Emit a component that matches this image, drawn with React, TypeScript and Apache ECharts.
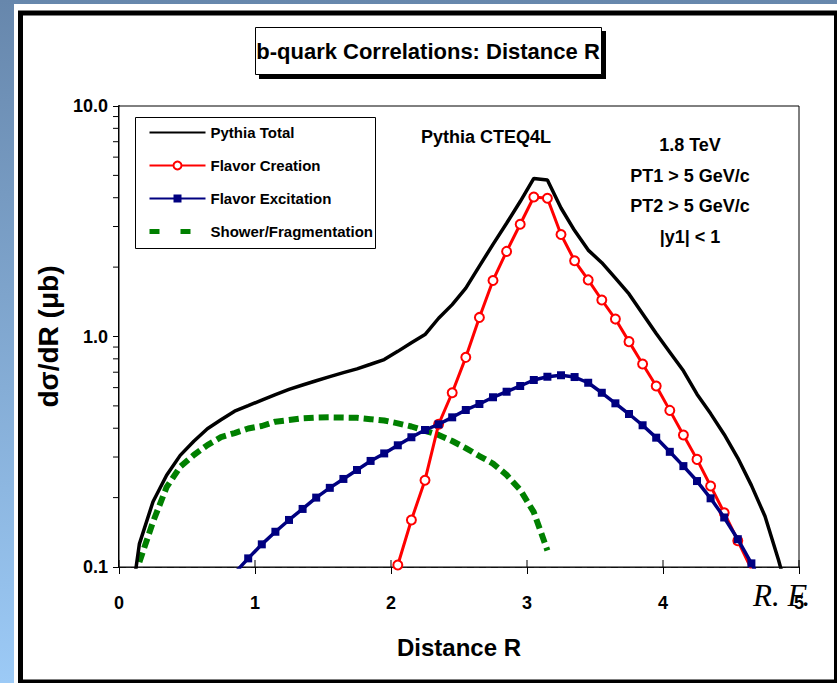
import React, { useEffect, useRef } from "react";
import * as echarts from "echarts";

// ---- data (R, dσ/dR in μb) ----
const totalR = [0.05, 0.15, 0.25, 0.35, 0.45, 0.55, 0.65, 0.75, 0.85, 0.95, 1.05, 1.15, 1.25, 1.35, 1.45, 1.55, 1.65, 1.75, 1.85, 1.95, 2.05, 2.15, 2.25, 2.35, 2.45, 2.55, 2.65, 2.75, 2.85, 2.95, 3.05, 3.15, 3.25, 3.35, 3.45, 3.55, 3.65, 3.75, 3.85, 3.95, 4.05, 4.15, 4.25, 4.35, 4.45, 4.55, 4.65, 4.75, 4.85, 4.95];
const totalV = [0.048, 0.126, 0.192, 0.25, 0.305, 0.351, 0.398, 0.435, 0.474, 0.501, 0.53, 0.56, 0.59, 0.616, 0.643, 0.67, 0.697, 0.724, 0.758, 0.794, 0.862, 0.94, 1.02, 1.2, 1.375, 1.62, 2.02, 2.51, 3.1, 3.85, 4.85, 4.77, 3.61, 2.88, 2.37, 2.09, 1.79, 1.53, 1.256, 1.03, 0.855, 0.71, 0.562, 0.463, 0.376, 0.297, 0.226, 0.166, 0.107, 0.065];

const creationR = [2.05, 2.15, 2.25, 2.35, 2.45, 2.55, 2.65, 2.75, 2.85, 2.95, 3.05, 3.15, 3.25, 3.35, 3.45, 3.55, 3.65, 3.75, 3.85, 3.95, 4.05, 4.15, 4.25, 4.35, 4.45, 4.55, 4.65];
const creationV = [0.102, 0.16, 0.238, 0.416, 0.57, 0.812, 1.21, 1.75, 2.34, 3.07, 4.03, 3.98, 2.77, 2.13, 1.76, 1.44, 1.19, 0.95, 0.76, 0.61, 0.478, 0.374, 0.293, 0.2245, 0.172, 0.13, 0.098];

const excitationR = [0.85, 0.95, 1.05, 1.15, 1.25, 1.35, 1.45, 1.55, 1.65, 1.75, 1.85, 1.95, 2.05, 2.15, 2.25, 2.35, 2.45, 2.55, 2.65, 2.75, 2.85, 2.95, 3.05, 3.15, 3.25, 3.35, 3.45, 3.55, 3.65, 3.75, 3.85, 3.95, 4.05, 4.15, 4.25, 4.35, 4.45, 4.55, 4.65, 4.75];
const excitationV = [0.094, 0.109, 0.1254, 0.1422, 0.16, 0.1786, 0.2, 0.2205, 0.241, 0.2636, 0.2885, 0.311, 0.3373, 0.3655, 0.393, 0.416, 0.446, 0.48, 0.5096, 0.545, 0.576, 0.61, 0.6476, 0.669, 0.679, 0.667, 0.63, 0.57, 0.513, 0.461, 0.412, 0.364, 0.316, 0.274, 0.236, 0.1986, 0.164, 0.132, 0.1037, 0.08];

const showerR = [0.15, 0.25, 0.35, 0.45, 0.55, 0.65, 0.75, 0.85, 0.95, 1.05, 1.15, 1.25, 1.35, 1.45, 1.55, 1.65, 1.75, 1.85, 1.95, 2.05, 2.15, 2.25, 2.35, 2.45, 2.55, 2.65, 2.75, 2.85, 2.95, 3.05, 3.15];
const showerV = [0.105, 0.157, 0.222, 0.272, 0.306, 0.338, 0.366, 0.381, 0.399, 0.409, 0.427, 0.434, 0.442, 0.445, 0.446, 0.445, 0.444, 0.438, 0.432, 0.42, 0.407, 0.39, 0.374, 0.352, 0.328, 0.303, 0.281, 0.251, 0.216, 0.173, 0.118];

const seriesNames = ["Pythia Total", "Flavor Creation", "Flavor Excitation", "Shower/Fragmentation"];
const xTicks = [0, 1, 2, 3, 4, 5];
const yMinorTicks = [0.2, 0.3, 0.4, 0.5, 0.6, 0.7, 0.8, 0.9, 2, 3, 4, 5, 6, 7, 8, 9];
const titleText = "b-quark Correlations: Distance R";
const noteLeft = "Pythia CTEQ4L";
const noteRight = ["1.8 TeV", "PT1 > 5 GeV/c", "PT2 > 5 GeV/c", "|y1| < 1"];
const signature = "R. F.";

const SANS = "'Liberation Sans', Arial, Helvetica, sans-serif";

const pair = (xs: number[], ys: number[]) => xs.map((x, i) => [x, ys[i]]);

export default function App() {
  const ref = useRef<HTMLDivElement>(null);
  useEffect(() => {
    if (!ref.current) return;
    const chart = echarts.init(ref.current, null, { renderer: "svg" });

    const tickSeries = (data: number[][], kind: "y" | "x") => ({
      type: "custom",
      coordinateSystem: "cartesian2d",
      clip: false,
      silent: true,
      z: 5,
      data,
      renderItem: (_p: any, api: any) => {
        const p = api.coord([api.value(0), api.value(1)]);
        const shape =
          kind === "y"
            ? { x1: p[0] - 6, y1: p[1], x2: p[0], y2: p[1] }
            : { x1: p[0], y1: p[1] - 7, x2: p[0], y2: p[1] };
        return { type: "line", shape, style: { stroke: "#000", lineWidth: 1 } };
      },
    });

    const option: any = {
      animation: false,
      backgroundColor: new echarts.graphic.LinearGradient(0, 0, 0, 1, [
        { offset: 0, color: "#6787ac" },
        { offset: 1, color: "#9ccaf6" },
      ]),
      grid: {
        left: 119,
        right: 38,
        top: 106,
        bottom: 116,
        show: true,
        borderColor: "#000",
        borderWidth: 1,
        backgroundColor: "#fff",
        z: 1,
      },
      legend: {
        orient: "vertical",
        left: 147,
        top: 125,
        itemWidth: 56,
        itemHeight: 10,
        itemGap: 18,
        padding: 0,
        z: 6,
        textStyle: { fontFamily: SANS, fontSize: 15, fontWeight: "bold", color: "#000" },
        data: [
          { name: seriesNames[0], itemStyle: { opacity: 0 } },
          { name: seriesNames[1] },
          { name: seriesNames[2] },
          { name: seriesNames[3], itemStyle: { opacity: 0 }, lineStyle: { type: [10, 21], width: 5 } },
        ],
      },
      xAxis: {
        type: "value",
        min: 0,
        max: 5,
        interval: 1,
        name: "Distance R",
        nameLocation: "middle",
        nameGap: 68,
        nameTextStyle: { fontFamily: SANS, fontSize: 24, fontWeight: "bold", color: "#000" },
        axisLine: { onZero: false, lineStyle: { color: "#000", width: 1.5 } },
        axisTick: { show: true, length: 7, lineStyle: { color: "#000", width: 1 } },
        axisLabel: { margin: 27, fontFamily: SANS, fontSize: 18, fontWeight: "bold", color: "#000" },
        splitLine: { show: false },
      },
      yAxis: {
        type: "log",
        logBase: 10,
        min: 0.1,
        max: 10,
        name: "dσ/dR (μb)",
        nameLocation: "middle",
        nameGap: 57,
        nameTextStyle: { fontFamily: SANS, fontSize: 28, fontWeight: "bold", color: "#000" },
        axisLine: { show: true, lineStyle: { color: "#000", width: 2 } },
        axisTick: { show: true, length: 6, lineStyle: { color: "#000", width: 1 } },
        axisLabel: {
          margin: 11,
          fontFamily: SANS,
          fontSize: 18,
          fontWeight: "bold",
          color: "#000",
          formatter: (v: number) => v.toFixed(1),
        },
        splitLine: { show: true, lineStyle: { color: "#777", width: 1, type: [7, 5] } },
      },
      graphic: [
        {
          type: "rect",
          z: -10,
          shape: { x: 14, y: 4, width: 830, height: 690 },
          style: { fill: "#fff" },
        },
        {
          type: "rect",
          z: -9,
          shape: { x: 20.5, y: 13, width: 816, height: 669 },
          style: { fill: "none", stroke: "#000", lineWidth: 5 },
        },
        {
          type: "rect",
          z: 10,
          shape: { x: 259, y: 31, width: 347, height: 48 },
          style: { fill: "#000" },
        },
        {
          type: "rect",
          z: 11,
          shape: { x: 255.5, y: 27.5, width: 346, height: 47 },
          style: { fill: "#fff", stroke: "#000", lineWidth: 1 },
        },
        {
          type: "text",
          z: 12,
          x: 428,
          y: 51,
          style: {
            text: titleText,
            fontFamily: SANS,
            fontSize: 22,
            fontWeight: "bold",
            fill: "#000",
            align: "center",
            verticalAlign: "middle",
          },
        },
        {
          type: "rect",
          z: 3,
          shape: { x: 135.5, y: 117.5, width: 240, height: 131 },
          style: { fill: "#fff", stroke: "#000", lineWidth: 1 },
        },
        {
          type: "text",
          z: 12,
          x: 486,
          y: 137,
          style: {
            text: noteLeft,
            fontFamily: SANS,
            fontSize: 18,
            fontWeight: "bold",
            fill: "#000",
            align: "center",
            verticalAlign: "middle",
          },
        },
        ...noteRight.map((t, i) => ({
          type: "text",
          z: 12,
          x: 690,
          y: 145 + i * 30.5,
          style: {
            text: t,
            fontFamily: SANS,
            fontSize: 18,
            fontWeight: "bold",
            fill: "#000",
            align: "center",
            verticalAlign: "middle",
          },
        })),
        {
          type: "text",
          z: 1,
          x: 753,
          y: 595,
          style: {
            text: signature,
            fontFamily: "'Liberation Serif', 'Times New Roman', serif",
            fontStyle: "italic",
            fontSize: 31,
            fill: "#000",
            align: "left",
            verticalAlign: "middle",
          },
        },
      ],
      series: [
        {
          name: seriesNames[3],
          type: "line",
          z: 2,
          data: pair(showerR, showerV),
          showSymbol: false,
          symbol: "none",
          lineStyle: { color: "#008000", width: 6, type: [10, 5], cap: "butt" },
          itemStyle: { color: "#008000" },
        },
        {
          name: seriesNames[0],
          type: "line",
          z: 3,
          data: pair(totalR, totalV),
          showSymbol: false,
          symbol: "none",
          lineStyle: { color: "#000", width: 3.5 },
          itemStyle: { color: "#000" },
        },
        {
          name: seriesNames[1],
          type: "line",
          z: 4,
          data: pair(creationR, creationV),
          symbol: "circle",
          symbolSize: 9,
          lineStyle: { color: "#ff0000", width: 3 },
          itemStyle: { color: "#fff", borderColor: "#ff0000", borderWidth: 2 },
        },
        {
          name: seriesNames[2],
          type: "line",
          z: 5,
          data: pair(excitationR, excitationV),
          symbol: "rect",
          symbolSize: 8,
          lineStyle: { color: "#000080", width: 3.5 },
          itemStyle: { color: "#000080" },
        },
        tickSeries(yMinorTicks.map((v) => [0, v]), "y"),
        tickSeries(xTicks.map((x) => [x, 0.1]), "x"),
      ],
    };

    chart.setOption(option);
    return () => chart.dispose();
  }, []);

  return (
    <div
      ref={ref}
      style={{ position: "absolute", left: 0, top: 0, width: 837, height: 683 }}
    />
  );
}
